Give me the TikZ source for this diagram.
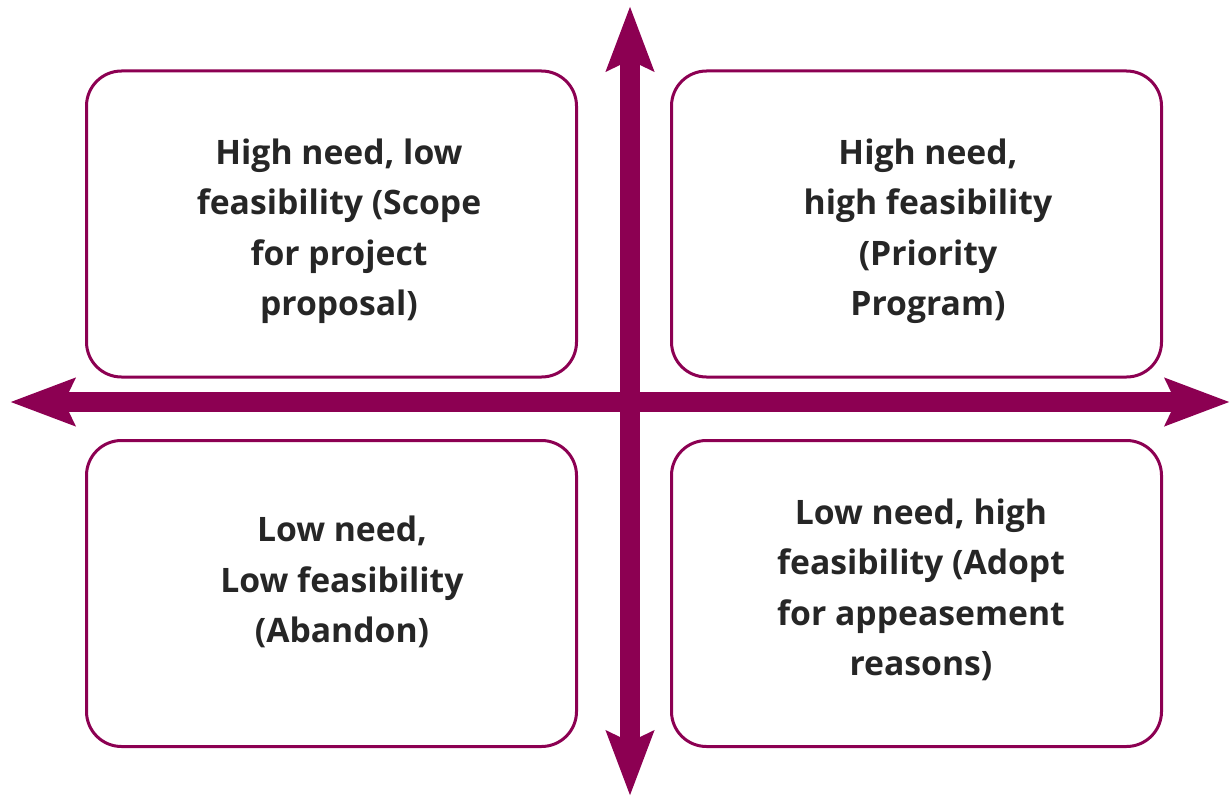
\documentclass[tikz,border=0pt]{standalone}
\usepackage{fontspec}
\setmainfont{Open Sans}
\usetikzlibrary{arrows.meta}
\definecolor{plum}{RGB}{140,0,82}
\begin{document}
\begin{tikzpicture}
  [x=1pt,y=-1pt,every node/.style={font=\bfseries\fontsize{33.7}{50.5}\selectfont,align=center,text=black!85}]
  \tikzstyle{quad} = [draw=plum,line width=3pt,rounded corners=35pt,minimum width=490pt,minimum height=306pt]
  \tikzstyle{axis} = [plum,line width=20pt,{Stealth[length=64pt,width=46pt,inset=10pt]}-{Stealth[length=64pt,width=46pt,inset=10pt]}]
  \useasboundingbox (0,0) rectangle (1231,797);
  \coordinate (top) at (630,6);
  \coordinate (bottom) at (630,796);
  \coordinate (west) at (10,402);
  \coordinate (east) at (1230,402);

  \node[quad] (tl) at (331.5,224) {};
  \node[quad] (tr) at (916.5,224) {};
  \node[quad] (bl) at (331.5,593.5) {};
  \node[quad] (br) at (916.5,593.5) {};

\foreach \source /\dest in {top/bottom,west/east}
   \draw[axis] (\source) -- (\dest);

  \node (tltext) at (339,231) {High need, low\\feasibility (Scope\\for project\\proposal)};
  \node (trtext) at (928,231) {High need,\\high feasibility\\(Priority\\Program)};
  \node (bltext) at (342,582) {Low need,\\Low feasibility\\(Abandon)};
  \node (brtext) at (921,590) {Low need, high\\feasibility (Adopt\\for appeasement\\reasons)};
  \end{tikzpicture}
\end{document}
